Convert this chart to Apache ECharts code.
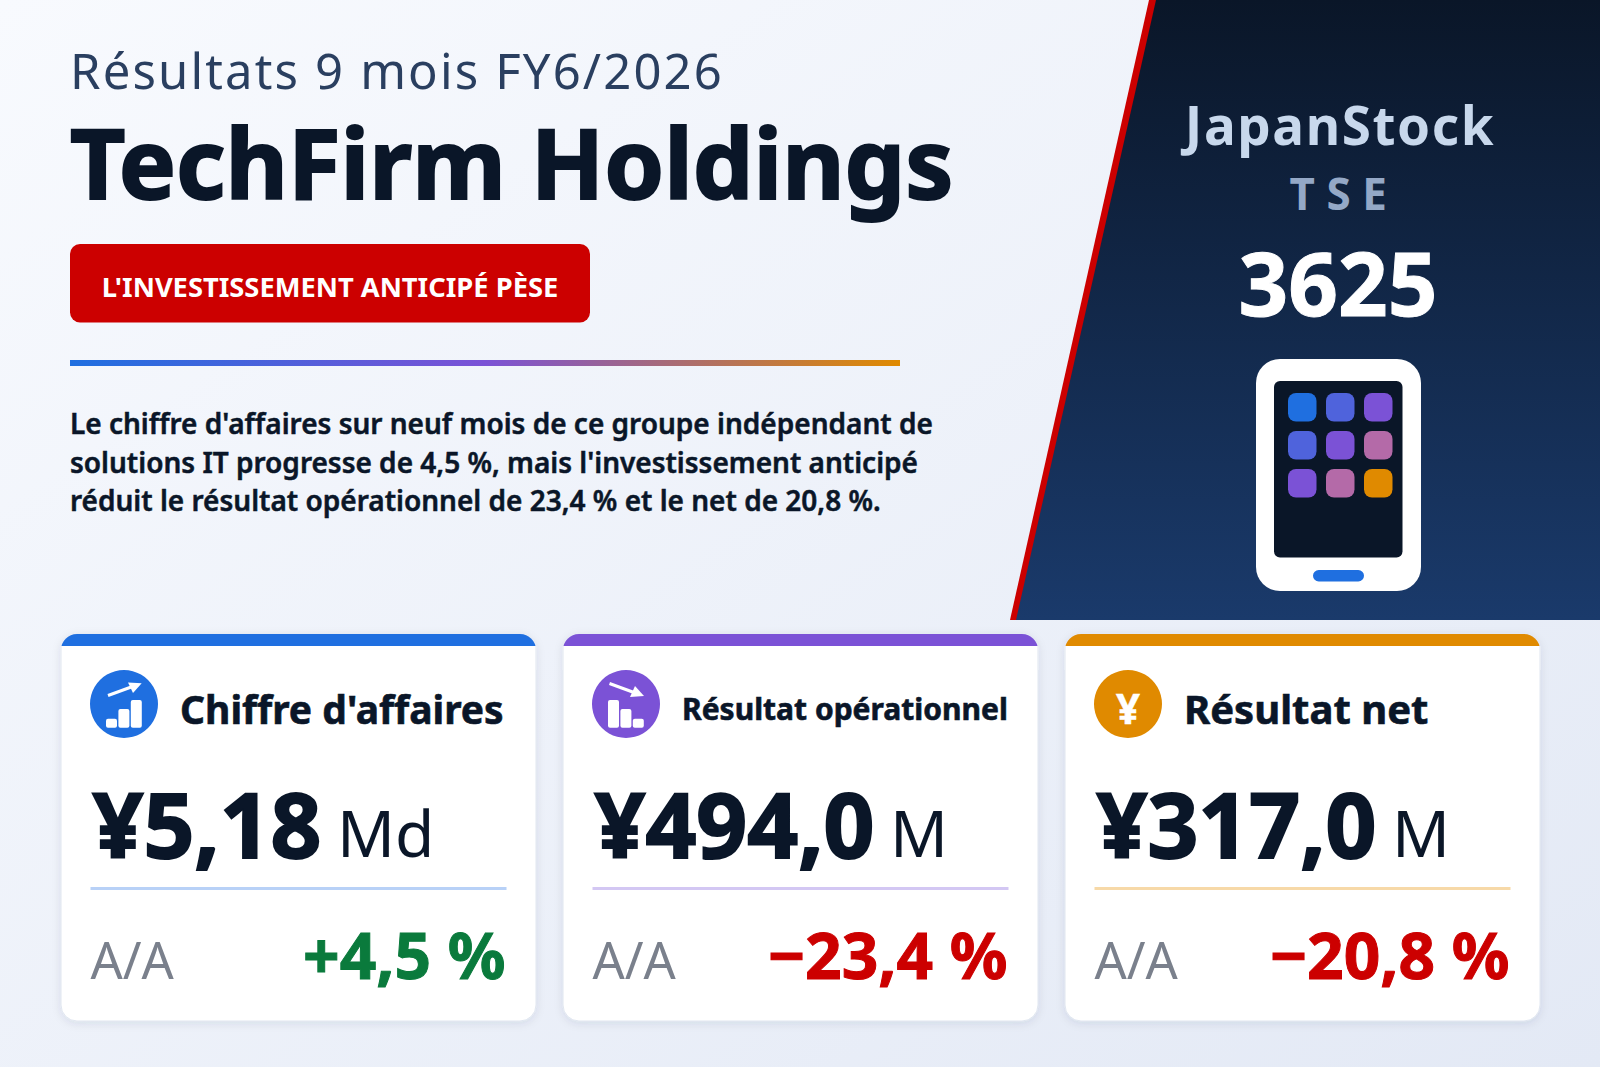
<!DOCTYPE html>
<html>
<head>
    <meta charset="utf-8">
    <title>TechFirm Holdings</title>
    <script src="https://cdn.jsdelivr.net/npm/echarts@6/dist/echarts.min.js"></script>
    <style>
        html, body { margin: 0; padding: 0; }
        #main { width: 1600px; height: 1067px; }
    </style>
</head>
<body>
<div id="main"></div>
<script>
    // texts and figures
    var kicker = 'Résultats 9 mois FY6/2026';
    var company = 'TechFirm Holdings';
    var badge = "L'INVESTISSEMENT ANTICIPÉ PÈSE";
    var summary = [
        "Le chiffre d'affaires sur neuf mois de ce groupe indépendant de",
        "solutions IT progresse de 4,5 %, mais l'investissement anticipé",
        "réduit le résultat opérationnel de 23,4 % et le net de 20,8 %."
    ];
    var brand = 'JapanStock';
    var market = 'TSE';
    var ticker = '3625';
    var kpiNames = ["Chiffre d'affaires", 'Résultat opérationnel', 'Résultat net'];
    var kpiValues = ['¥5,18', '¥494,0', '¥317,0'];
    var kpiUnits = ['Md', 'M', 'M'];
    var kpiChanges = ['+4,5 %', '−23,4 %', '−20,8 %'];
    var changeLabel = 'A/A';

    // colours
    var ink = '#0a1628', blue = '#1f6fe0', indigo = '#4f63dc', violet = '#7b52d6', pink = '#b46aa8', amber = '#e08a00';
    var red = '#cc0000', green = '#0a7a3c';
    var kpiColors = [blue, violet, amber];
    var kpiRules = ['#b8d1f7', '#d3c7f3', '#f7d9a8'];
    var kpiChangeColors = [green, red, red];
    var appColors = [[blue, indigo, violet], [indigo, violet, pink], [violet, pink, amber]];

    // tracking, applied on the svg text once drawn
    var tracking = {};
    tracking[kicker] = 2.15;
    tracking[brand] = 1.6;
    tracking[market] = 11.5;

    var FONT = '"Noto Sans", sans-serif';
    var els = [];

    // embolden: same colour outline, the reference bold is heavier than Noto's
    function txt(text, x, baseline, size, weight, fill, align, embolden) {
        var style = {
            text: text, x: x, y: baseline - size * 0.362,
            font: weight + ' ' + size + 'px ' + FONT,
            fill: fill, align: align || 'left', verticalAlign: 'middle'
        };
        if (embolden) {
            style.stroke = fill;
            style.lineWidth = embolden;
        }
        els.push({ type: 'text', silent: true, style: style });
    }
    function box(x, y, w, h, r, fill, extra) {
        var style = { fill: fill };
        for (var k in extra) style[k] = extra[k];
        els.push({ type: 'rect', silent: true, shape: { x: x, y: y, width: w, height: h, r: r }, style: style });
    }
    function poly(points, fill) {
        els.push({ type: 'polygon', silent: true, shape: { points: points }, style: { fill: fill } });
    }
    function gradient(x2, y2, stops) {
        return { type: 'linear', x: 0, y: 0, x2: x2, y2: y2, colorStops: stops };
    }

    // page background
    box(0, 0, 1600, 1067, 0, gradient(1, 1, [{ offset: 0, color: '#f8fafe' }, { offset: 1, color: '#e3e9f5' }]));

    // header, left side
    txt(kicker, 70, 88, 49, 400, '#2a3f60');
    txt(company, 70, 196, 96, 700, ink, 'left', 2);
    box(70, 244, 520, 78.5, 10, red);
    txt(badge, 330, 296.5, 27.3, 700, '#ffffff', 'center');
    box(70, 360, 830, 6, 0, gradient(1, 0, [{ offset: 0, color: blue }, { offset: 0.5, color: violet }, { offset: 1, color: amber }]));
    summary.forEach(function (line, i) {
        txt(line, 70, 433 + i * 38.8, 28, 600, ink, 'left', 0.5);
    });

    // ticker panel
    poly([[1155, 0], [1600, 0], [1600, 620], [1015, 620]], gradient(0, 1, [{ offset: 0, color: ink }, { offset: 1, color: '#1a3a6b' }]));
    poly([[1149, 0], [1156, 0], [1016, 620], [1010, 620]], red);
    txt(brand, 1340, 144, 53, 700, '#c8d8ec', 'center');
    txt(market, 1344, 209, 44, 700, '#94a8c6', 'center');
    txt(ticker, 1338, 313, 87, 700, '#ffffff', 'center', 1);

    // tablet
    box(1256, 359, 165, 232, 24, '#ffffff');
    box(1274, 381, 128.5, 176.5, 6, ink);
    appColors.forEach(function (row, r) {
        row.forEach(function (color, c) {
            box(1288 + c * 38, 393 + r * 38, 28.5, 28.5, 8, color);
        });
    });
    box(1313, 570, 51, 11.5, 5.7, blue);

    // little bar + arrow icons
    function barIcon(cx, heights, x1, y1, x2, y2, head) {
        heights.forEach(function (h, i) {
            box(cx - 18 + i * 12.4, 727.7 - h, 11, h, 2, '#ffffff');
        });
        els.push({ type: 'line', silent: true, shape: { x1: x1, y1: y1, x2: x2, y2: y2 }, style: { stroke: '#ffffff', lineWidth: 3 } });
        poly(head, '#ffffff');
    }

    // kpi cards
    var measure = document.createElement('canvas').getContext('2d');
    measure.font = '700 89px ' + FONT;
    kpiNames.forEach(function (name, i) {
        var left = 61 + i * 502;
        box(left, 634, 475, 387, 16, '#ffffff', {
            stroke: '#e0e6f0', lineWidth: 1,
            shadowBlur: 8, shadowOffsetY: 2, shadowColor: 'rgba(20,40,80,0.10)'
        });
        // coloured cap: rounded top, cut straight by a white cover, side borders put back
        box(left, 634, 475, 34, 16, kpiColors[i]);
        box(left - 0.5, 646, 476, 24, 0, '#ffffff');
        box(left - 0.5, 646, 1, 24, 0, '#e0e6f0');
        box(left + 474.5, 646, 1, 24, 0, '#e0e6f0');
        var pad = left + 29.5;
        var cx = pad + 33.5;
        els.push({ type: 'circle', silent: true, shape: { cx: cx, cy: 704, r: 34 }, style: { fill: kpiColors[i] } });
        if (i === 0) {
            barIcon(cx, [9, 18.7, 27.7], cx - 16, 695.5, cx + 10, 686, [[cx + 17.7, 683.3], [cx + 4, 682.5], [cx + 9, 693]]);
        } else if (i === 1) {
            barIcon(cx, [27.7, 18.7, 9], cx - 16.5, 683.5, cx + 8, 692.5, [[cx + 18, 696], [cx + 9, 686], [cx + 4, 697]]);
        } else {
            txt('¥', cx, 722.7, 42, 700, '#ffffff', 'center', 0.5);
        }
        // the middle card has the long name, set smaller
        txt(name, pad + 89.5, i === 1 ? 719 : 723, i === 1 ? 30 : (i === 2 ? 40 : 39), 700, ink, 'left', 0.6);
        txt(kpiValues[i], pad + 2, 855.5, 89, 700, ink, 'left', 2);
        box(pad, 887, 416, 3, 0, kpiRules[i]);
        txt(changeLabel, pad, 978, 50.5, 400, '#7a808c');
        txt(kpiChanges[i], pad + 415, 978, 64, 700, kpiChangeColors[i], 'right', 1);
        txt(kpiUnits[i], pad + 2 + measure.measureText(kpiValues[i]).width + 15.5, 856, 64, 400, ink);
    });

    var chart = echarts.init(document.getElementById('main'), null, { renderer: 'svg', width: 1600, height: 1067 });
    chart.setOption({ animation: false, graphic: { elements: els } });

    function applyTracking() {
        document.querySelectorAll('#main svg text').forEach(function (node) {
            var s = tracking[node.textContent];
            if (s) node.setAttribute('letter-spacing', s);
        });
    }
    chart.on('finished', applyTracking);
    setTimeout(applyTracking, 50);
</script>
</body>
</html>
